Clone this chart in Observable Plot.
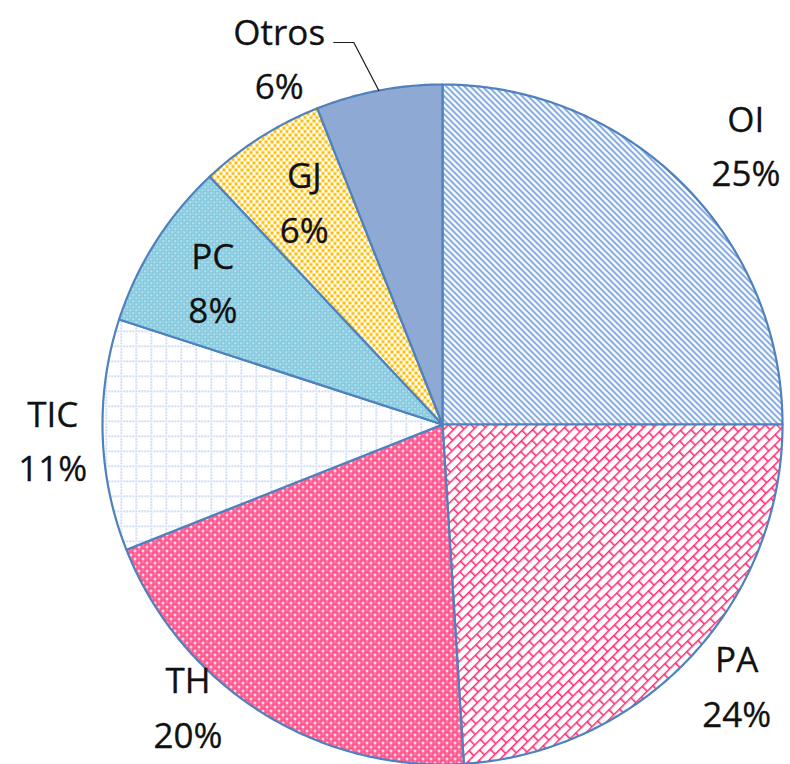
<!DOCTYPE html>
<html>
<head>
<meta charset="utf-8">
<script src="https://cdn.jsdelivr.net/npm/d3@7"></script>
<script src="https://cdn.jsdelivr.net/npm/@observablehq/plot@0.6"></script>
<style>
  html, body { margin: 0; padding: 0; background: #fff; }
  #chart { width: 790px; height: 764px; }
</style>
</head>
<body>
<div id="chart"></div>
<script>
// ---- data ----
const categories = ["OI", "PA", "TH", "TIC", "PC", "GJ", "Otros"];
const values = [25, 24, 20, 11, 8, 6, 6];
const patterns = ["pOI", "pPA", "pTH", "pTIC", "pPC", "pGJ", "pOT"];

// ---- layout ----
const W = 790, H = 764;
const cx = 442, cy = 424, R = 340;
const labelRadius = [1.22, 1.15, 1.11, 1.147, 0.80, 0.78, 1.19];
const labelShift = [2, -2, 10, 0, 0, 1, -13];
const leaderOffset = [[-25, -48], [-45, -48]];

const total = d3.sum(values);
function polar(deg, r) {
  const a = deg * Math.PI / 180;
  return [cx + r * Math.sin(a), cy - r * Math.cos(a)];
}

const slicePts = [];
const labels = [];
let acc = 0;
categories.forEach((c, i) => {
  const a0 = acc / total * 360;
  acc += values[i];
  const a1 = acc / total * 360;
  const fill = `url(#${patterns[i]})`;
  slicePts.push({ key: c, fill, x: cx, y: cy });
  const n = Math.max(2, Math.ceil((a1 - a0) / 0.5));
  for (let k = 0; k <= n; k++) {
    const [x, y] = polar(a0 + (a1 - a0) * k / n, R);
    slicePts.push({ key: c, fill, x, y });
  }
  const mid = (a0 + a1) / 2;
  const [lx, ly] = polar(mid + labelShift[i], R * labelRadius[i]);
  labels.push({ x: lx, y: ly, text: `${c}\n${values[i]}%`, mid });
});

// leader line for "Otros"
const oMid = labels[6].mid;
const [ex, ey] = polar(oMid, R);
const leader = [
  { x: ex, y: ey },
  { x: ex + leaderOffset[0][0], y: ey + leaderOffset[0][1] },
  { x: ex + leaderOffset[1][0], y: ey + leaderOffset[1][1] }
];

const svg = Plot.plot({
  width: W,
  height: H,
  margin: 0,
  x: { domain: [0, W], range: [0, W], axis: null },
  y: { domain: [0, H], range: [0, H], axis: null },
  color: { type: "identity" },
  style: { background: "#fff", fontFamily: "'Open Sans', sans-serif" },
  marks: [
    Plot.line(slicePts, {
      x: "x", y: "y", z: "key", fill: "fill",
      stroke: "#4f81bd", strokeWidth: 2.2, curve: "linear-closed", strokeLinejoin: "round"
    }),
    Plot.line(leader, { x: "x", y: "y", stroke: "#1a1a1a", strokeWidth: 1.2 }),
    Plot.text(labels, {
      x: "x", y: "y", text: "text", fontSize: 35, lineHeight: 1.55,
      fill: "#111", textAnchor: "middle", stroke: "#111", strokeWidth: 0.3
    })
  ]
});

const defs = `
<defs>
  <pattern id="pOI" patternUnits="userSpaceOnUse" width="6" height="6">
    <rect width="6" height="6" fill="#fff"/>
    <path d="M-1,-1 L7,7 M-1,5 L1,7 M5,-1 L7,1" stroke="#4f86d0" stroke-width="1.4"/>
  </pattern>
  <pattern id="pPA" patternUnits="userSpaceOnUse" width="16" height="14" patternTransform="rotate(-45)">
    <rect width="16" height="14" fill="#fff"/>
    <path d="M0,0.75 H16 M0,7.75 H16 M0.75,0 V7 M8.75,7 V14" stroke="#ff2a72" stroke-width="1.6"/>
  </pattern>
  <pattern id="pTH" patternUnits="userSpaceOnUse" width="8" height="8">
    <rect width="8" height="8" fill="#ff5a90"/>
    <rect x="1" y="2" width="3" height="1" fill="#fff"/>
    <rect x="2" y="1" width="1" height="3" fill="#fff"/>
    <rect x="5" y="6" width="3" height="1" fill="#fff"/>
    <rect x="6" y="5" width="1" height="3" fill="#fff"/>
    <rect x="6" y="1" width="1" height="1" fill="#ffc4d6"/>
    <rect x="2" y="5" width="1" height="1" fill="#ffc4d6"/>
  </pattern>
  <pattern id="pTIC" patternUnits="userSpaceOnUse" width="15" height="15">
    <rect width="15" height="15" fill="#fff"/>
    <path d="M0,0.75 H15 M0.75,0 V15" stroke="#a9c1e8" stroke-width="1.5" stroke-dasharray="1.5 1.5"/>
  </pattern>
  <pattern id="pPC" patternUnits="userSpaceOnUse" width="6" height="6">
    <rect width="6" height="6" fill="#84c9de"/>
    <rect x="0" y="0" width="1.3" height="1.3" fill="#fff"/>
    <rect x="3" y="3" width="1.3" height="1.3" fill="#fff"/>
    <rect x="0" y="3" width="1" height="1" fill="#c9e8f2"/>
    <rect x="3" y="0" width="1" height="1" fill="#c9e8f2"/>
  </pattern>
  <pattern id="pGJ" patternUnits="userSpaceOnUse" width="6" height="7">
    <rect width="6" height="7" fill="#fff"/>
    <rect x="0" y="0" width="3" height="3" fill="#ffbc00"/>
    <rect x="3" y="3.5" width="3" height="3" fill="#ffbc00"/>
  </pattern>
  <pattern id="pOT" patternUnits="userSpaceOnUse" width="4" height="4">
    <rect width="4" height="4" fill="#8eaad4"/>
  </pattern>
</defs>`;
svg.insertAdjacentHTML("afterbegin", defs);
document.getElementById("chart").appendChild(svg);
</script>
</body>
</html>
